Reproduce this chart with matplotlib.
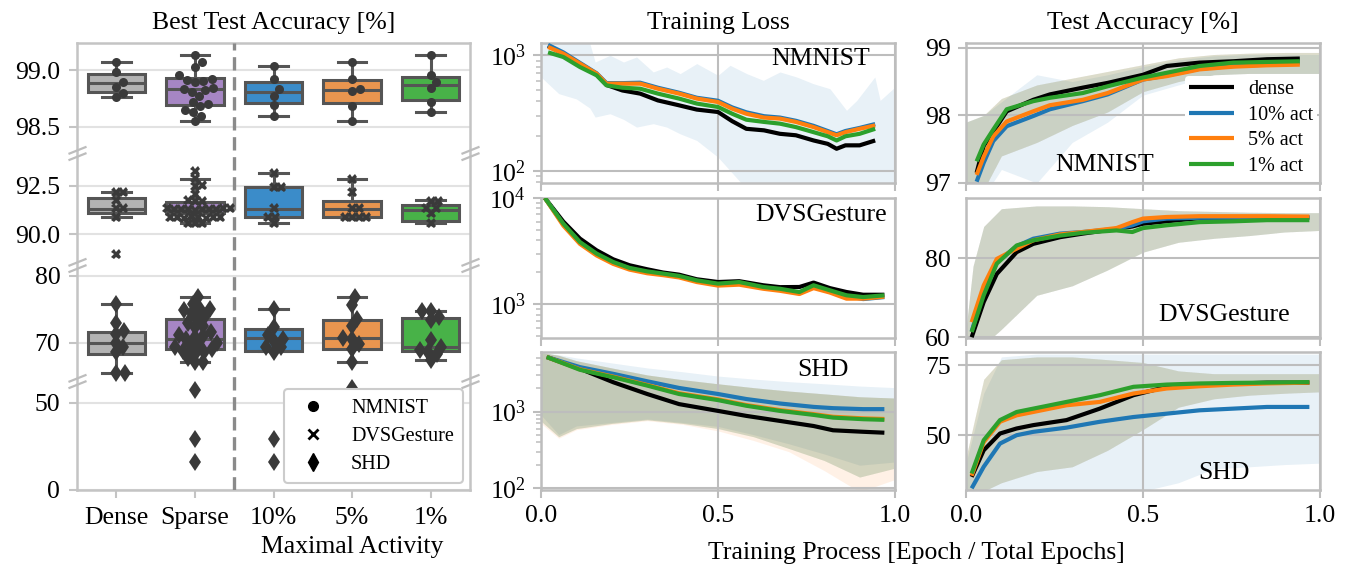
import numpy as np
import matplotlib.pyplot as plt
from matplotlib.lines import Line2D
from matplotlib.path import Path
from matplotlib.ticker import NullFormatter, NullLocator, LogLocator

plt.rcParams['font.family'] = 'serif'
plt.rcParams['font.serif'] = ['Liberation Serif', 'DejaVu Serif']
plt.rcParams['mathtext.fontset'] = 'stix'
plt.rcParams['font.size'] = 18.5
plt.rcParams['axes.titlesize'] = 18.5

# ---------------- left panel: best test accuracy ----------------
GROUPS = ['Dense', 'Sparse', '10%', '5%', '1%']
BOX_COLORS = ['#b3b3b3', '#a686c4', '#3b8cc9', '#e9954f', '#48b248']

# (whisker low, q1, median, q3, whisker high)
NMNIST_BOX = [(98.76, 98.81, 98.885, 98.97, 99.07),
              (98.55, 98.69, 98.83, 98.93, 99.13),
              (98.60, 98.71, 98.81, 98.90, 99.035),
              (98.55, 98.71, 98.825, 98.91, 99.07),
              (98.63, 98.74, 98.87, 98.94, 99.13)]
DVS_BOX = [(90.9, 91.07, 91.31, 91.88, 92.16),
           (90.55, 91.1, 91.31, 91.64, 92.84),
           (90.55, 90.86, 91.31, 92.45, 93.19),
           (90.86, 90.86, 91.31, 91.69, 92.83),
           (90.55, 90.67, 91.27, 91.53, 91.79)]
SHD_BOX = [(65.5, 68.4, 70.0, 71.6, 75.8),
           (67.1, 69.0, 70.5, 73.6, 76.8),
           (68.8, 68.8, 70.7, 72.1, 75.1),
           (67.1, 69.0, 70.7, 73.4, 76.8),
           (67.4, 68.8, 69.4, 73.7, 74.7)]

NMNIST_PTS = [[99.07, 98.98, 98.90, 98.855, 98.80, 98.76],
              [99.13, 99.07, 99.03, 98.955, 98.92, 98.915, 98.905, 98.90, 98.84, 98.83,
               98.825, 98.81, 98.77, 98.72, 98.70, 98.68, 98.645, 98.63, 98.60, 98.55],
              [99.035, 98.92, 98.83, 98.77, 98.69, 98.60],
              [99.07, 98.925, 98.83, 98.815, 98.68, 98.55],
              [99.13, 98.955, 98.895, 98.84, 98.72, 98.63]]
DVS_PTS = [[92.16, 92.16, 91.76, 91.36, 91.36, 90.9, 88.98],
           [93.26, 92.88, 92.55, 92.5, 92.1, 91.75, 91.72, 91.7, 91.35, 91.33, 91.33, 91.32,
            91.3, 91.3, 91.3, 91.28, 91.28, 91.25, 90.92, 90.9, 90.9, 90.9, 90.88, 90.88,
            90.85, 90.85, 90.55, 90.55, 90.55],
           [93.19, 92.45, 92.45, 91.33, 90.9, 90.9, 90.55],
           [92.83, 92.2, 91.33, 91.33, 90.9, 90.9, 90.9, 90.9],
           [91.72, 91.72, 91.33, 91.33, 91.07, 90.55]]
SHD_PTS = [[75.8, 73.0, 71.7, 71.3, 70.0, 69.3, 68.6, 65.5, 65.5],
           [76.8, 75.8, 75.1, 75.1, 74.9, 74.5, 74.0, 73.5, 73.0, 72.5, 72.3, 71.6, 71.2,
            71.0, 70.8, 70.5, 70.0, 69.7, 69.5, 69.3, 69.0, 68.8, 68.6, 68.4, 67.8, 67.2,
            67.1, 57.4, 29.1, 15.9],
           [75.1, 72.4, 71.2, 70.5, 70.2, 69.3, 69.3, 68.6, 29.1, 15.9],
           [76.8, 75.6, 73.5, 72.5, 70.7, 70.5, 69.8, 69.0, 67.1, 58.4],
           [74.7, 74.7, 73.9, 73.4, 70.4, 69.4, 68.9, 68.6, 68.3, 67.4]]

# broken y axis: value -> screen position (piecewise linear)
SEG_VAL = [0, 62.6, 64.3, 81.6, 88.4, 94.2, 98.27, 99.24]
SEG_POS = [0, 109, 109.01, 225, 225.01, 337, 337.01, 447]
BREAKS = [63.45, 85.0, 96.2]
ACC_TICKS = [0, 50, 70, 80, 90.0, 92.5, 98.5, 99.0]
ACC_LABELS = ['0', '50', '70', '80', '90.0', '92.5', '98.5', '99.0']

# ---------------- training curves ----------------
LOSS_N_X = [0.02, 0.063, 0.11, 0.157, 0.185, 0.23, 0.28, 0.33, 0.39, 0.44, 0.5, 0.54,
            0.58, 0.63, 0.675, 0.72, 0.77, 0.81, 0.835, 0.86, 0.9, 0.944]
LOSS_N = {
    'dense': [1210, 1030, 830, 680, 555, 497, 467, 408, 370, 340, 324, 270, 232, 225,
              210, 204, 184, 172, 156, 167, 167, 184],
    '10%': [1230, 1060, 860, 700, 575, 575, 580, 525, 475, 430, 405, 355, 322, 298, 290,
            272, 246, 222, 208, 222, 236, 255],
    '5%': [1180, 1034, 847, 695, 569, 569, 569, 515, 467, 423, 395, 346, 313, 290, 284,
           266, 240, 217, 204, 217, 232, 248],
    '1%': [1060, 967, 792, 672, 550, 525, 515, 467, 423, 383, 358, 313, 278, 266, 257,
           240, 217, 200, 184, 200, 210, 232],
}
LOSS_N_BAND_X = [0.0, 0.05, 0.1, 0.138, 0.153, 0.195, 0.233, 0.27, 0.317, 0.355, 0.393,
                 0.44, 0.5, 0.534, 0.581, 0.628, 0.675, 0.722, 0.769, 0.816, 0.863, 0.892,
                 0.943, 0.958, 1.0]
LOSS_N_BLUE_HI = [1500, 1450, 1350, 1262, 875, 1000, 875, 967, 718, 792, 695, 848, 672,
                  820, 695, 608, 718, 650, 569, 515, 335, 408, 650, 408, 532]
LOSS_N_BLUE_LO = [650, 467, 420, 350, 293, 313, 280, 240, 257, 240, 210, 184, 132, 101,
                  70, 50, 50, 50, 50, 50, 50, 50, 50, 50, 50]

LOSS_D_X = [0.011, 0.063, 0.11, 0.157, 0.204, 0.25, 0.3, 0.345, 0.39, 0.44, 0.5, 0.56,
            0.628, 0.675, 0.73, 0.77, 0.816, 0.863, 0.91, 0.97]
LOSS_D = {
    'dense': [10000, 6000, 4150, 3220, 2650, 2330, 2135, 1990, 1900, 1720, 1620, 1650,
              1510, 1450, 1455, 1600, 1420, 1305, 1230, 1230],
    '10%': [10000, 5650, 3800, 2950, 2460, 2170, 2010, 1920, 1820, 1660, 1540, 1580, 1430,
            1370, 1280, 1470, 1320, 1200, 1120, 1170],
    '5%': [10000, 5500, 3700, 2880, 2400, 2120, 1960, 1880, 1790, 1620, 1500, 1530, 1400,
           1340, 1250, 1420, 1290, 1130, 1130, 1180],
    '1%': [10000, 5740, 3850, 3000, 2500, 2200, 2040, 1945, 1850, 1680, 1565, 1620, 1455,
           1400, 1305, 1510, 1355, 1215, 1170, 1215],
}

LOSS_S_X = [0.016, 0.11, 0.204, 0.3, 0.39, 0.5, 0.58, 0.675, 0.77, 0.825, 0.91, 0.97]
LOSS_S = {
    'dense': [5140, 3610, 2410, 1693, 1250, 1020, 878, 755, 648, 570, 545, 530],
    '10%': [5140, 3790, 3100, 2480, 2030, 1693, 1456, 1273, 1150, 1107, 1075, 1075],
    '5%': [5140, 3550, 2850, 2220, 1730, 1440, 1215, 1045, 925, 855, 815, 800],
    '1%': [5140, 3500, 2800, 2180, 1693, 1410, 1190, 1020, 905, 834, 795, 780],
}
BAND_X = [0.0, 0.05, 0.1, 0.2, 0.3, 0.4, 0.5, 0.6, 0.7, 0.8, 0.9, 1.0]
LOSS_S_BLUE_HI = [5900, 5500, 5000, 4300, 3700, 3300, 2900, 2650, 2450, 2300, 2150, 2050]
LOSS_S_BLUE_LO = [900, 500, 650, 720, 800, 720, 640, 500, 380, 280, 200, 220]
LOSS_S_OTH_HI = [5900, 5400, 4600, 3700, 3000, 2600, 2300, 2050, 1850, 1700, 1560, 1500]
LOSS_S_OTH_LO = [750, 470, 600, 700, 780, 700, 600, 470, 330, 230, 140, 183]
LOSS_S_ORA_LO = [700, 450, 580, 680, 760, 680, 560, 420, 300, 170, 90, 130]

ACC_N_X = [0.03, 0.05, 0.077, 0.115, 0.19, 0.237, 0.33, 0.4, 0.5, 0.567, 0.66, 0.755,
           0.85, 0.943]
ACC_N = {
    'dense': [97.15, 97.55, 97.76, 98.06, 98.23, 98.31, 98.41, 98.48, 98.60, 98.73, 98.78,
              98.80, 98.83, 98.84],
    '10%': [97.02, 97.30, 97.62, 97.84, 97.99, 98.09, 98.21, 98.31, 98.53, 98.59, 98.69,
            98.73, 98.75, 98.78],
    '5%': [97.12, 97.39, 97.69, 97.91, 98.06, 98.15, 98.23, 98.33, 98.53, 98.58, 98.68,
           98.72, 98.74, 98.75],
    '1%': [97.32, 97.57, 97.79, 98.09, 98.21, 98.26, 98.33, 98.43, 98.56, 98.63, 98.73,
           98.78, 98.79, 98.80],
}
ACC_N_OTH_HI = [97.9, 98.0, 98.25, 98.45, 98.55, 98.65, 98.75, 98.85, 98.9, 98.92, 98.93, 98.93]
ACC_N_OTH_LO = [96.5, 96.9, 97.4, 97.6, 97.85, 98.05, 98.35, 98.5, 98.6, 98.62, 98.62, 98.62]
ACC_N_BLUE_HI = [97.9, 98.0, 98.2, 98.6, 98.5, 98.6, 98.72, 98.82, 98.88, 98.9, 98.9, 98.9]
ACC_N_BLUE_LO = [96.5, 96.8, 97.2, 97.0, 97.6, 97.9, 98.3, 98.45, 98.6, 98.62, 98.62, 98.62]

ACC_D_X = [0.016, 0.05, 0.087, 0.143, 0.19, 0.266, 0.33, 0.425, 0.47, 0.5, 0.567, 0.66,
           0.755, 0.85, 0.97]
ACC_D = {
    'dense': [60.0, 68.9, 76.0, 81.5, 83.6, 85.3, 86.2, 87.4, 88.0, 88.7, 89.3, 90.1, 90.0,
              90.2, 90.3],
    '10%': [61.5, 71.5, 79.0, 83.0, 84.9, 86.2, 86.6, 87.4, 88.3, 89.3, 90.0, 90.2, 90.2,
            90.2, 90.2],
    '5%': [63.8, 73.1, 79.8, 82.4, 84.5, 86.0, 86.6, 87.6, 89.1, 90.0, 90.4, 90.6, 90.6,
           90.6, 90.5],
    '1%': [61.3, 70.6, 78.6, 83.2, 84.5, 85.7, 86.4, 87.0, 86.6, 87.6, 88.3, 89.1, 89.3,
           89.6, 89.6],
}
ACC_D_BAND_X = [0.0, 0.02, 0.05, 0.1, 0.2, 0.3, 0.4, 0.5, 0.6, 0.7, 0.8, 0.9, 1.0]
ACC_D_HI = [62, 78, 88, 92.5, 93.2, 93.2, 93.0, 92.5, 92.0, 91.8, 91.6, 91.5, 91.5]
ACC_D_LO = [58, 58, 58, 62, 70.6, 73, 77, 81.5, 84, 85, 85.7, 86.6, 87]

ACC_S_X = [0.016, 0.05, 0.096, 0.143, 0.19, 0.284, 0.378, 0.473, 0.567, 0.66, 0.755,
           0.85, 0.97]
ACC_S = {
    'dense': [35.1, 44.6, 50.6, 52.4, 53.6, 55.4, 59.5, 64.3, 67.3, 68.1, 68.4, 68.8, 68.8],
    '10%': [31.0, 38.7, 47.0, 50.0, 51.2, 52.7, 54.8, 56.5, 57.7, 58.9, 59.5, 60.1, 60.1],
    '5%': [35.5, 47.5, 54.8, 57.1, 58.3, 60.7, 61.9, 64.9, 66.7, 67.5, 68.1, 68.5, 68.8],
    '1%': [36.3, 48.2, 55.4, 58.3, 59.5, 61.9, 64.3, 67.3, 68.1, 68.5, 68.7, 68.8, 69.0],
}
ACC_S_BLUE_HI = [40, 65, 78, 79, 79, 79, 79, 79, 79, 79, 79, 79]
ACC_S_BLUE_LO = [28, 28, 28, 28, 28, 28, 30, 33, 38, 38.7, 39.5, 40]
ACC_S_OTH_HI = [42, 70, 77, 78, 78, 77, 76, 73, 72, 72, 72, 72]
ACC_S_OTH_LO = [28, 30, 33, 37, 38.7, 44.6, 52, 60, 63, 64.3, 65, 65.5]

SERIES = ['dense', '10%', '5%', '1%']
LINE_COLORS = {'dense': 'k', '10%': '#1f77b4', '5%': '#ff7f0e', '1%': '#2ca02c'}
LEGEND_LABELS = ['dense', '10% act', '5% act', '1% act']

GRID = '#bdbdbd'
PT_COLOR = '#3a3a3a'
EDGE = '#555555'

W_PX, H_PX = 1351, 570
fig = plt.figure(figsize=(W_PX / 100, H_PX / 100), dpi=100)


def rect(x0, x1, top, bot):
    return [x0 / W_PX, 1 - bot / H_PX, (x1 - x0) / W_PX, (bot - top) / H_PX]


# ---------------- left panel ----------------
ax = fig.add_axes(rect(77, 470, 43, 490))
ax.set_yscale('function', functions=(lambda v: np.interp(v, SEG_VAL, SEG_POS),
                                     lambda p: np.interp(p, SEG_POS, SEG_VAL)))
ax.set_ylim(0, 99.24)
ax.set_xlim(-0.5, 4.5)
ax.set_yticks(ACC_TICKS)
ax.set_yticklabels(ACC_LABELS)
ax.yaxis.set_minor_locator(NullLocator())
ax.set_xticks(range(len(GROUPS)))
ax.set_xticklabels(GROUPS)
ax.set_axisbelow(True)
ax.grid(axis='y', color='#e2e2e2', lw=1.5)
for s in ax.spines.values():
    s.set_color('#c4c4c4')
    s.set_linewidth(1.8)
ax.tick_params(color='#c4c4c4', length=6, width=1.5, pad=6)

for boxes in (NMNIST_BOX, DVS_BOX, SHD_BOX):
    for i, (lo, q1, med, q3, hi) in enumerate(boxes):
        st = [dict(whislo=lo, q1=q1, med=med, q3=q3, whishi=hi, fliers=[])]
        ax.bxp(st, positions=[i], widths=0.73, patch_artist=True, showfliers=False,
               boxprops=dict(facecolor=BOX_COLORS[i], edgecolor=EDGE, lw=2.2),
               medianprops=dict(color=EDGE, lw=2.2),
               whiskerprops=dict(color=EDGE, lw=2.2),
               capprops=dict(color=EDGE, lw=2.2), manage_ticks=False)


def swarm_x(ax, xc, vals, d_px):
    # simple beeswarm in screen space
    yp = ax.transData.transform(np.column_stack([np.full(len(vals), xc), vals]))[:, 1]
    offs = np.zeros(len(vals))
    placed = []
    for i in np.argsort(yp):
        cands = [0.0]
        for py, px in placed:
            dy = yp[i] - py
            if abs(dy) < d_px:
                dx = np.sqrt(d_px ** 2 - dy ** 2)
                cands += [px + dx, px - dx]
        cands.sort(key=abs)
        for c in cands:
            if all((c - px) ** 2 + (yp[i] - py) ** 2 >= d_px ** 2 - 1e-6 for py, px in placed):
                offs[i] = c
                break
        placed.append((yp[i], offs[i]))
    unit = ax.transData.transform([[1, 50]])[0, 0] - ax.transData.transform([[0, 50]])[0, 0]
    return xc + offs / unit


for pts, mk, ms, dpx in ((NMNIST_PTS, 'o', 6.5, 8.5), (DVS_PTS, 'X', 7.2, 7.0),
                         (SHD_PTS, 'd', 9.5, 8.5)):
    for i, vals in enumerate(pts):
        xs = swarm_x(ax, i, vals, dpx)
        ax.plot(xs, vals, ls='none', marker=mk, ms=ms, color=PT_COLOR, mew=0, zorder=4)

ax.axvline(1.5, color='#8a8a8a', ls=(0, (4, 2)), lw=2.4, zorder=3)

brk = Path([(-1, -0.75), (1, 0.05), (-1, -0.05), (1, 0.75)],
           [Path.MOVETO, Path.LINETO, Path.MOVETO, Path.LINETO])
for yb in BREAKS:
    ax.plot([0, 1], [yb, yb], transform=ax.get_yaxis_transform(), ls='none', marker=brk,
            ms=13, mew=1.6, color='#bdbdbd', clip_on=False, zorder=5)

ax.set_title('Best Test Accuracy [%]', pad=10)
ax.text(3, -0.1275, 'Maximal Activity', transform=ax.get_xaxis_transform(),
        ha='center', va='center')
handles = [Line2D([], [], ls='none', marker='o', color='k', ms=7),
           Line2D([], [], ls='none', marker='x', color='k', ms=6.5, mew=2),
           Line2D([], [], ls='none', marker='d', color='k', ms=9)]
leg = ax.legend(handles, ['NMNIST', 'DVSGesture', 'SHD'], loc='lower right',
                fontsize=14.5, borderaxespad=0.35, labelspacing=0.45, handletextpad=0.9,
                borderpad=0.45, framealpha=1, edgecolor='#cccccc')
leg.get_frame().set_linewidth(1.5)


# ---------------- curve panels ----------------
def style(ax, xlabels):
    ax.set_xlim(0, 1)
    ax.set_xticks([0, 0.5, 1])
    ax.set_xticklabels(['0.0', '0.5', '1.0'] if xlabels else [])
    ax.grid(True, which='major', color=GRID, lw=1.5)
    for s in ax.spines.values():
        s.set_color(GRID)
        s.set_linewidth(1.8)
    ax.tick_params(which='major', color=GRID, length=6, width=1.5, pad=5)
    ax.tick_params(which='minor', color=GRID, length=3.5, width=1.1)


def lines(ax, xs, data):
    for k in SERIES:
        ax.plot(xs, data[k], color=LINE_COLORS[k], lw=3, zorder=3,
                solid_capstyle='butt')


def band(ax, xs, lo, hi, key, alpha=0.1):
    ax.fill_between(xs, lo, hi, color=LINE_COLORS[key], alpha=alpha, lw=0, zorder=1)


ROWS = [(43, 183), (198, 338), (352, 490)]
mid = [fig.add_axes(rect(541, 895, t, b)) for t, b in ROWS]
right = [fig.add_axes(rect(966, 1320, t, b)) for t, b in ROWS]

for a in mid:
    a.set_yscale('log')
    a.yaxis.set_major_locator(LogLocator(base=10))
    a.yaxis.set_minor_locator(LogLocator(base=10, subs=np.arange(2, 10)))
    a.yaxis.set_minor_formatter(NullFormatter())

# NMNIST loss
a = mid[0]
band(a, LOSS_N_BAND_X, LOSS_N_BLUE_LO, LOSS_N_BLUE_HI, '10%')
lines(a, LOSS_N_X, LOSS_N)
a.set_ylim(79, 1277)
a.text(0.929, 0.886, 'NMNIST', transform=a.transAxes, ha='right', va='center')
a.set_title('Training Loss', pad=10)

# DVS loss
a = mid[1]
lines(a, LOSS_D_X, LOSS_D)
a.set_ylim(482, 10000)
a.text(0.977, 0.879, 'DVSGesture', transform=a.transAxes, ha='right', va='center')

# SHD loss
a = mid[2]
band(a, BAND_X, LOSS_S_BLUE_LO, LOSS_S_BLUE_HI, '10%')
band(a, BAND_X, LOSS_S_OTH_LO, LOSS_S_OTH_HI, 'dense')
band(a, BAND_X, LOSS_S_ORA_LO, LOSS_S_OTH_HI, '5%')
band(a, BAND_X, LOSS_S_OTH_LO, LOSS_S_OTH_HI, '1%')
lines(a, LOSS_S_X, LOSS_S)
a.set_ylim(95, 5970)
a.text(0.797, 0.87, 'SHD', transform=a.transAxes, ha='center', va='center')

# NMNIST accuracy
a = right[0]
band(a, BAND_X, ACC_N_BLUE_LO, ACC_N_BLUE_HI, '10%')
for k in ('dense', '5%', '1%'):
    band(a, BAND_X, ACC_N_OTH_LO, ACC_N_OTH_HI, k, 0.08)
lines(a, ACC_N_X, ACC_N)
a.set_ylim(97, 99.07)
a.set_yticks([97, 98, 99])
a.text(0.393, 0.129, 'NMNIST', transform=a.transAxes, ha='center', va='center')
a.set_title('Test Accuracy [%]', pad=10)
a.legend(a.get_lines()[:4], LEGEND_LABELS, loc='lower right', fontsize=14.5,
         frameon=True, facecolor='white', edgecolor='none', framealpha=1,
         borderaxespad=0.15, borderpad=0.2, labelspacing=0.32, handlelength=2.2,
         handletextpad=0.7)

# DVS accuracy
a = right[1]
for k in SERIES:
    band(a, ACC_D_BAND_X, ACC_D_LO, ACC_D_HI, k, 0.08)
lines(a, ACC_D_X, ACC_D)
a.set_ylim(59.8, 95.2)
a.set_yticks([60, 80])
a.text(0.73, 0.164, 'DVSGesture', transform=a.transAxes, ha='center', va='center')

# SHD accuracy
a = right[2]
band(a, BAND_X, ACC_S_BLUE_LO, ACC_S_BLUE_HI, '10%')
for k in ('dense', '5%', '1%'):
    band(a, BAND_X, ACC_S_OTH_LO, ACC_S_OTH_HI, k, 0.08)
lines(a, ACC_S_X, ACC_S)
a.set_ylim(30.4, 79.75)
a.set_yticks([50, 75])
a.text(0.729, 0.123, 'SHD', transform=a.transAxes, ha='center', va='center')

for i, a in enumerate(mid + right):
    style(a, i % 3 == 2)

fig.text(916 / W_PX, 1 - 553 / H_PX, 'Training Process [Epoch / Total Epochs]',
         ha='center', va='center')

fig.savefig('out.png', dpi=100)
